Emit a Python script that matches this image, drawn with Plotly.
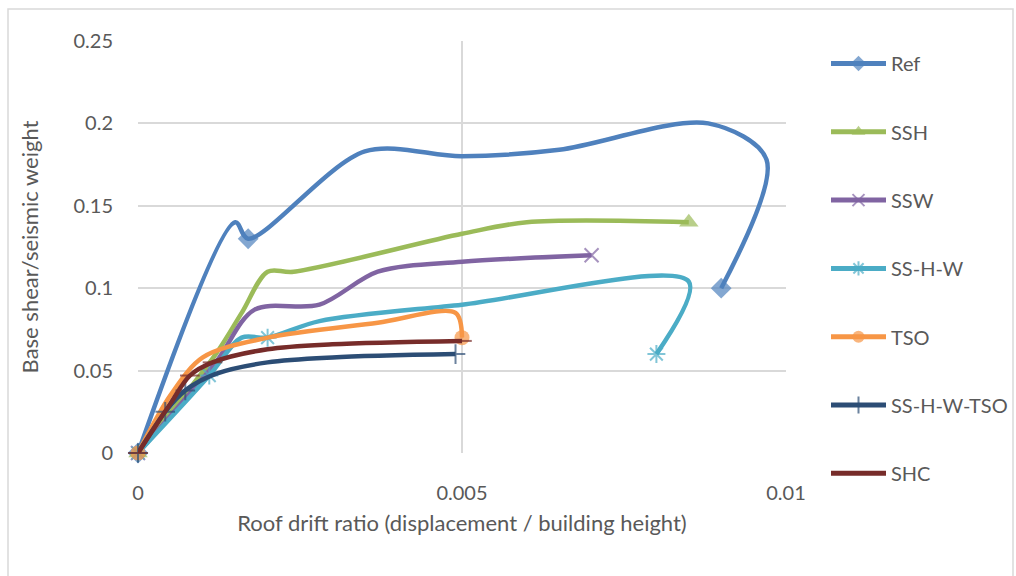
import plotly.graph_objects as go

# Pushover curves: roof drift ratio vs normalised base shear
ref_x = [0, 0.0015, 0.0017, 0.0035, 0.005, 0.0065, 0.0088, 0.0097, 0.009]
ref_y = [0, 0.14, 0.13, 0.183, 0.18, 0.184, 0.2, 0.178, 0.1]
ref_mk = [1, 0, 1, 0, 0, 0, 0, 0, 1]

ssh_x = [0, 0.0012, 0.0016, 0.002, 0.0024, 0.005, 0.006, 0.0085]
ssh_y = [0, 0.06, 0.085, 0.11, 0.11, 0.133, 0.14, 0.14]
ssh_mk = [1, 0, 0, 0, 0, 0, 0, 1]

ssw_x = [0, 0.0012, 0.0018, 0.0028, 0.0037, 0.005, 0.007]
ssw_y = [0, 0.055, 0.087, 0.09, 0.11, 0.116, 0.12]
ssw_mk = [1, 0, 0, 0, 0, 0, 1]

sshw_x = [0, 0.0011, 0.0016, 0.002, 0.0028, 0.005, 0.0085, 0.008]
sshw_y = [0, 0.047, 0.07, 0.07, 0.08, 0.09, 0.104, 0.06]
sshw_mk = [1, 1, 0, 1, 0, 0, 0, 1]

tso_x = [0, 0.0005, 0.001, 0.002, 0.0037, 0.0049, 0.005]
tso_y = [0, 0.035, 0.058, 0.07, 0.079, 0.085, 0.07]
tso_mk = [1, 0, 0, 0, 0, 0, 1]

sshwtso_x = [0, 0.00042, 0.00073, 0.0012, 0.002, 0.003, 0.0049]
sshwtso_y = [0, 0.025, 0.038, 0.048, 0.055, 0.058, 0.06]
sshwtso_mk = [1, 1, 1, 0, 0, 0, 1]

shc_x = [0, 0.0005, 0.0008, 0.00115, 0.002, 0.003, 0.005]
shc_y = [0, 0.03, 0.047, 0.055, 0.063, 0.066, 0.068]
shc_mk = [1, 0, 1, 1, 0, 0, 1]

series = [
    ("Ref", ref_x, ref_y, ref_mk, "#4F81BD", "diamond", 16, False),
    ("SSH", ssh_x, ssh_y, ssh_mk, "#9BBB59", "triangle-up", 17, False),
    ("SSW", ssw_x, ssw_y, ssw_mk, "#8064A2", "x-thin-open", 14, True),
    ("SS-H-W", sshw_x, sshw_y, sshw_mk, "#4BACC6", "asterisk-open", 15, True),
    ("TSO", tso_x, tso_y, tso_mk, "#F79646", "circle", 15, False),
    ("SS-H-W-TSO", sshwtso_x, sshwtso_y, sshwtso_mk, "#2C4D75", "cross-thin-open", 14, True),
    ("SHC", shc_x, shc_y, shc_mk, "#772C2A", "line-ew-open", 14, True),
]

fig = go.Figure()
for i, (name, xs, ys, mk, color, symbol, size, is_open) in enumerate(series):
    marker = dict(
        symbol=symbol,
        size=[size if m else 0 for m in mk],
        color=color,
        line=dict(color=color, width=2 if is_open else 0),
    )
    fig.add_trace(go.Scatter(
        x=xs, y=ys, name=name, mode="lines+markers",
        line=dict(color=color, width=4.5, shape="spline", smoothing=0.9),
        marker=marker, cliponaxis=False, legendgroup=f"g{i}",
    ))

font_family = "Lato, 'Open Sans', sans-serif"
tick_color = "#595959"

fig.update_layout(
    width=1016, height=576,
    margin=dict(l=138, r=230, t=41, b=123, autoexpand=False),
    paper_bgcolor="white", plot_bgcolor="white",
    font=dict(family=font_family, size=20, color=tick_color),
    showlegend=True,
    legend=dict(
        xref="container", yref="container",
        x=826 / 1016, y=1 - 44 / 576, xanchor="left", yanchor="top",
        font=dict(size=20, color=tick_color),
        tracegroupgap=39.3, itemsizing="constant", itemwidth=55,
        bgcolor="rgba(0,0,0,0)", maxheight=560,
    ),
    xaxis=dict(
        range=[0, 0.01], dtick=0.005, tick0=0, automargin=False,
        showgrid=True, gridcolor="#D9D9D9", gridwidth=1.5,
        zeroline=False, showline=False, ticks="",
        ticklabelstandoff=26,
        title=dict(text="Roof drift ratio (displacement / building height)",
                   font=dict(size=22, color=tick_color), standoff=12),
    ),
    yaxis=dict(
        range=[0, 0.25], dtick=0.05, tick0=0, automargin=False,
        showgrid=True, gridcolor="#D9D9D9", gridwidth=1.5,
        zeroline=False, showline=False, ticks="",
        ticklabelstandoff=24,
        title=dict(text="Base shear/seismic weight",
                   font=dict(size=22, color=tick_color), standoff=28),
    ),
    shapes=[dict(
        type="rect", xref="paper", yref="paper",
        x0=-130 / 648, x1=875 / 648, y0=-140 / 412, y1=(412 + 32) / 412,
        line=dict(color="#D9D9D9", width=1.5), layer="below",
    )],
)

fig.write_html("out.html")
